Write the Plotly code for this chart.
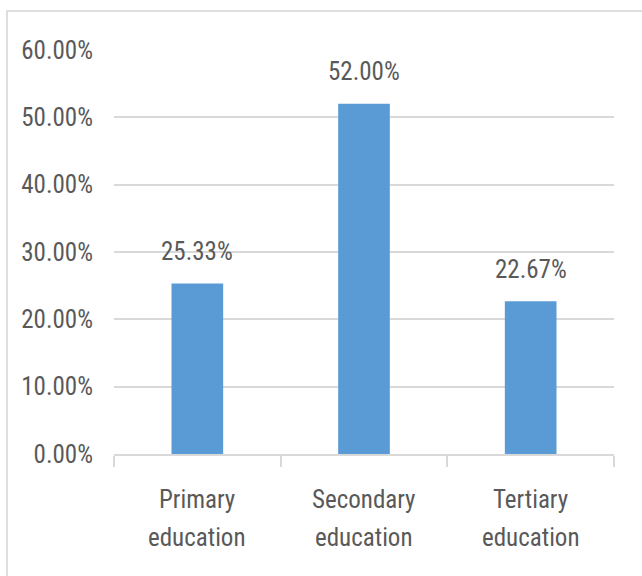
import plotly.graph_objects as go

categories = ["Primary education", "Secondary education", "Tertiary education"]
cat_line1 = ["Primary", "Secondary", "Tertiary"]
cat_line2 = ["education", "education", "education"]
values = [25.33, 52.00, 22.67]
y_ticks = [0, 10, 20, 30, 40, 50, 60]
y_tick_labels = ["0.00%", "10.00%", "20.00%", "30.00%", "40.00%", "50.00%", "60.00%"]

FONT = "Liberation Sans Narrow, Arial Narrow, Roboto Condensed, sans-serif"
TXT = "#595959"
GRID = "#D9D9D9"

fig = go.Figure()
fig.add_trace(go.Bar(
    x=categories, y=values, width=0.31,
    marker=dict(color="#5B9BD5", line=dict(width=0)),
    hoverinfo="skip",
))

annotations = []
for c, v in zip(categories, values):
    annotations.append(dict(x=c, y=v, xref="x", yref="y", text=f"{v:.2f}%",
                            showarrow=False, yanchor="middle", yshift=32,
                            font=dict(family=FONT, size=25, color=TXT)))
for c, l1, l2 in zip(categories, cat_line1, cat_line2):
    annotations.append(dict(x=c, y=0, xref="x", yref="paper", text=l1,
                            showarrow=False, yanchor="middle", yshift=-45,
                            font=dict(family=FONT, size=25, color=TXT)))
    annotations.append(dict(x=c, y=0, xref="x", yref="paper", text=l2,
                            showarrow=False, yanchor="middle", yshift=-83,
                            font=dict(family=FONT, size=25, color=TXT)))

fig.update_layout(
    width=642, height=576,
    margin=dict(l=114, r=28, t=50, b=122),
    paper_bgcolor="white", plot_bgcolor="white",
    showlegend=False,
    bargap=0.69,
    annotations=annotations,
    shapes=[dict(type="rect", xref="paper", yref="paper",
                 x0=-0.214, x1=1.2, y0=-0.5, y1=1.0965,
                 line=dict(color="#D4D4D4", width=1.5), layer="below")],
    xaxis=dict(type="category", range=[-0.5, 2.5], showticklabels=False,
               showline=True, linecolor=GRID, linewidth=1.5,
               ticks="outside", tickson="boundaries", ticklen=11,
               tickcolor=GRID, tickwidth=1.5, showgrid=False, fixedrange=True),
    yaxis=dict(range=[0, 60], tickvals=y_ticks, ticktext=y_tick_labels,
               showgrid=True, gridcolor=GRID, gridwidth=1.5, zeroline=False,
               showline=False, ticks="", ticklabelstandoff=20,
               tickfont=dict(family=FONT, size=25, color=TXT), fixedrange=True),
)

fig.write_html("out.html")
